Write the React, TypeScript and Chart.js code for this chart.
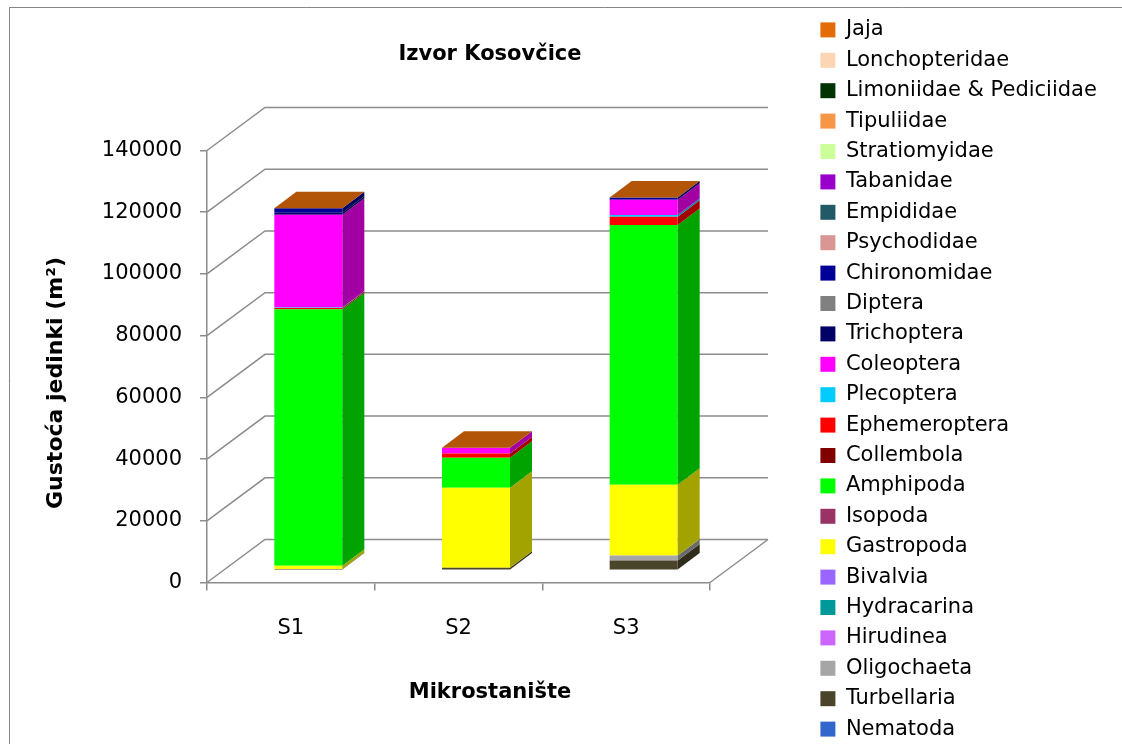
import React, { useEffect, useRef } from "react";
import { Chart, registerables } from "chart.js";

Chart.register(...registerables);

// ---------- data ----------
const chartTitle = "Izvor Kosovčice";
const xTitle = "Mikrostanište";
const yTitle = "Gustoća jedinki (m²)";

const categories = ["S1", "S2", "S3"];
const yTicks = [0, 20000, 40000, 60000, 80000, 100000, 120000, 140000];

// series listed bottom of the stack -> top
const seriesNames = [
  "Nematoda", "Turbellaria", "Oligochaeta", "Hirudinea", "Hydracarina", "Bivalvia",
  "Gastropoda", "Isopoda", "Amphipoda", "Collembola", "Ephemeroptera", "Plecoptera",
  "Coleoptera", "Trichoptera", "Diptera", "Chironomidae", "Psychodidae", "Empididae",
  "Tabanidae", "Stratiomyidae", "Tipuliidae", "Limoniidae & Pediciidae", "Lonchopteridae", "Jaja",
];

const nematoda = [0, 0, 0];
const turbellaria = [400, 850, 3200];
const oligochaeta = [0, 0, 1600];
const hirudinea = [0, 0, 0];
const hydracarina = [0, 0, 0];
const bivalvia = [0, 0, 0];
const gastropoda = [1100, 25900, 22900];
const isopoda = [0, 0, 0];
const amphipoda = [83100, 9700, 84200];
const collembola = [0, 0, 0];
const ephemeroptera = [400, 1400, 2700];
const plecoptera = [150, 0, 550];
const coleoptera = [30100, 1900, 4900];
const trichoptera = [600, 0, 0];
const diptera = [0, 0, 0];
const chironomidae = [1500, 0, 750];
const psychodidae = [0, 0, 0];
const empididae = [0, 0, 0];
const tabanidae = [0, 0, 0];
const stratiomyidae = [0, 0, 0];
const tipuliidae = [0, 0, 0];
const limoniidae = [0, 0, 0];
const lonchopteridae = [0, 0, 0];
const jaja = [0, 0, 0];

const seriesValues = [
  nematoda, turbellaria, oligochaeta, hirudinea, hydracarina, bivalvia,
  gastropoda, isopoda, amphipoda, collembola, ephemeroptera, plecoptera,
  coleoptera, trichoptera, diptera, chironomidae, psychodidae, empididae,
  tabanidae, stratiomyidae, tipuliidae, limoniidae, lonchopteridae, jaja,
];

const seriesColors = [
  "#3366CC", "#4A452A", "#A6A6A6", "#CC66FF", "#009999", "#9966FF",
  "#FFFF00", "#993366", "#00FF00", "#800000", "#FF0000", "#00CCFF",
  "#FF00FF", "#000066", "#808080", "#000099", "#D99694", "#215968",
  "#9900CC", "#CCFF99", "#F79646", "#003300", "#FCD5B5", "#E36C09",
];

// ---------- styling / geometry ----------
const CANVAS_W = 1200;
const CANVAS_H = 760;
const PLOT_LEFT = 207;
const PLOT_RIGHT = 710;
const PLOT_TOP = 150.5;
const PLOT_BOTTOM = 582.5;
const GRID = "#8c8c8c";
const FONT = "'DejaVu Sans', sans-serif";
const WALL = { x: 58, y: -43 };
const BAR_OFF = { x: 17.5, y: -12.2 };
const BAR_DEPTH = { x: 22, y: -16.5 };

function shade(hex: string, f: number) {
  const n = parseInt(hex.slice(1), 16);
  const r = Math.round(((n >> 16) & 255) * f);
  const g = Math.round(((n >> 8) & 255) * f);
  const b = Math.round((n & 255) * f);
  return `rgb(${r},${g},${b})`;
}

const threeD = {
  id: "threeD",
  beforeDraw(chart: any) {
    const ctx = chart.ctx;
    ctx.save();
    ctx.strokeStyle = "#868686";
    ctx.lineWidth = 1;
    ctx.beginPath();
    ctx.moveTo(9, 7.5);
    ctx.lineTo(CANVAS_W, 7.5);
    ctx.moveTo(9.5, 7);
    ctx.lineTo(9.5, CANVAS_H);
    ctx.stroke();
    ctx.restore();
  },
  beforeDatasetsDraw(chart: any) {
    const { ctx, chartArea: a, scales } = chart;
    const y = scales.y;
    ctx.save();
    ctx.strokeStyle = GRID;
    ctx.lineWidth = 1.5;
    ctx.beginPath();
    for (const t of y.ticks) {
      const py = y.getPixelForValue(t.value);
      ctx.moveTo(a.left, py);
      ctx.lineTo(a.left + WALL.x, py + WALL.y);
      ctx.lineTo(a.right + WALL.x, py + WALL.y);
    }
    ctx.moveTo(a.right, a.bottom);
    ctx.lineTo(a.right + WALL.x, a.bottom + WALL.y);
    ctx.stroke();
    ctx.restore();
    ctx.save();
    ctx.translate(BAR_OFF.x, BAR_OFF.y);
  },
  afterDatasetsDraw(chart: any) {
    const ctx = chart.ctx;
    ctx.restore();
    const metas = chart.getSortedVisibleDatasetMetas();
    const poly = (pts: number[][], color: string) => {
      ctx.fillStyle = color;
      ctx.beginPath();
      ctx.moveTo(pts[0][0], pts[0][1]);
      for (let i = 1; i < pts.length; i++) ctx.lineTo(pts[i][0], pts[i][1]);
      ctx.closePath();
      ctx.fill();
    };
    ctx.save();
    for (const meta of metas) {
      const col = shade(seriesColors[meta.index], 0.64);
      meta.data.forEach((el: any) => {
        const p = el.getProps(["x", "y", "base", "width"], true);
        const top = Math.min(p.y, p.base);
        const bot = Math.max(p.y, p.base);
        if (bot - top < 0.05) return;
        const r = p.x + p.width / 2 + BAR_OFF.x;
        const t = top + BAR_OFF.y;
        const b = bot + BAR_OFF.y;
        poly([[r, t], [r + BAR_DEPTH.x, t + BAR_DEPTH.y], [r + BAR_DEPTH.x, b + BAR_DEPTH.y], [r, b]], col);
      });
    }
    const last = metas[metas.length - 1];
    const topCol = shade(seriesColors[last.index], 0.79);
    last.data.forEach((el: any) => {
      const p = el.getProps(["x", "y", "base", "width"], true);
      const t = Math.min(p.y, p.base) + BAR_OFF.y;
      const l = p.x - p.width / 2 + BAR_OFF.x;
      const r = p.x + p.width / 2 + BAR_OFF.x;
      poly([[l, t], [l + BAR_DEPTH.x, t + BAR_DEPTH.y], [r + BAR_DEPTH.x, t + BAR_DEPTH.y], [r, t]], topCol);
    });
    ctx.restore();
  },
  afterDraw(chart: any) {
    const ctx = chart.ctx;
    ctx.save();
    ctx.fillStyle = "#000";
    ctx.textAlign = "center";
    ctx.textBaseline = "alphabetic";
    ctx.font = `bold 21px ${FONT}`;
    ctx.fillText(chartTitle, 490, 59.5);
    ctx.fillText(xTitle, 490, 697.5);
    ctx.translate(62, 383);
    ctx.rotate(-Math.PI / 2);
    ctx.font = `bold 22px ${FONT}`;
    ctx.fillText(yTitle, 0, 0);
    ctx.restore();
  },
};

export default function App() {
  const ref = useRef<HTMLCanvasElement>(null);

  useEffect(() => {
    const canvas = ref.current;
    if (!canvas) return;
    Chart.defaults.font.family = FONT;
    Chart.defaults.color = "#000";

    const datasets = seriesNames.map((name, i) => ({
      label: name,
      data: seriesValues[i],
      backgroundColor: seriesColors[i],
      borderWidth: 0,
      categoryPercentage: 1,
      barPercentage: 0.4056,
    }));

    const chart = new Chart(canvas, {
      type: "bar",
      data: { labels: categories, datasets },
      options: {
        animation: false,
        responsive: false,
        devicePixelRatio: 1,
        layout: { padding: { top: 10, left: 0, right: 0, bottom: 0 } },
        plugins: {
          title: { display: false },
          tooltip: { enabled: false },
          legend: {
            position: "right",
            align: "start",
            reverse: true,
            maxWidth: 360,
            labels: {
              boxWidth: 15,
              boxHeight: 15,
              padding: 9.4,
              color: "#000",
              font: { size: 21, family: FONT },
            },
          },
        },
        scales: {
          x: {
            stacked: true,
            grid: {
              display: true,
              drawOnChartArea: false,
              drawTicks: true,
              tickLength: 8,
              offset: true,
              color: GRID,
              lineWidth: 1.5,
            },
            border: { display: true, color: GRID, width: 1.5 },
            ticks: { padding: 25, color: "#000", font: { size: 21, family: FONT } },
            afterFit: (s: any) => {
              s.height = CANVAS_H - PLOT_BOTTOM;
            },
          },
          y: {
            stacked: true,
            min: 0,
            max: 140000,
            afterBuildTicks: (s: any) => {
              s.ticks = yTicks.map((v) => ({ value: v }));
            },
            grid: {
              display: true,
              drawOnChartArea: false,
              drawTicks: true,
              tickLength: 7,
              color: GRID,
              lineWidth: 1.5,
            },
            border: { display: true, color: GRID, width: 1.5 },
            ticks: {
              padding: 18,
              color: "#000",
              font: { size: 21, family: FONT },
              callback: (v: any) => String(v),
            },
            afterFit: (s: any) => {
              s.width = PLOT_LEFT;
              s.paddingTop = PLOT_TOP;
              s.paddingRight = CANVAS_W - PLOT_RIGHT;
            },
          },
          y2: {
            type: "linear",
            position: "right",
            display: true,
            grid: { display: false, drawTicks: false },
            border: { display: false },
            ticks: { display: false },
            afterFit: (s: any) => {
              s.width = 101;
            },
          },
        },
      } as any,
      plugins: [threeD],
    });
    return () => chart.destroy();
  }, []);

  return (
    <div
      style={{
        position: "absolute",
        left: 0,
        top: 0,
        width: 1122,
        height: 744,
        overflow: "hidden",
        background: "#fff",
      }}
    >
      <canvas
        ref={ref}
        width={CANVAS_W}
        height={CANVAS_H}
        style={{ display: "block", width: CANVAS_W, height: CANVAS_H }}
      />
    </div>
  );
}
